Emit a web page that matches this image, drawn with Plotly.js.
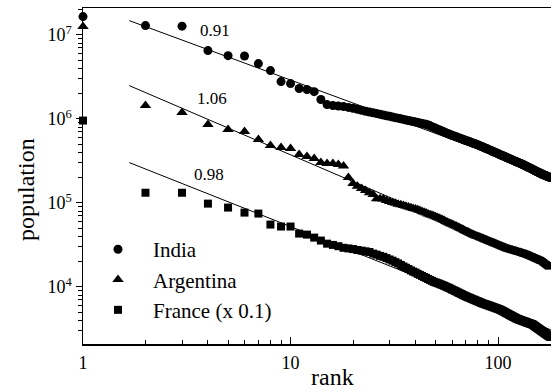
<!DOCTYPE html>
<html>
<head>
<meta charset="utf-8">
<script src="https://cdn.plot.ly/plotly-3.0.1.min.js"></script>
<style>html,body{margin:0;padding:0;background:#fff;}#chart{width:551px;height:392px;}</style>
</head>
<body>
<div id="chart"></div>
<script>
const rank = Array.from({length: 180}, (_, i) => i + 1);

const india = [
16500000, 12900000, 12700000, 6500000, 5660000, 5600000, 4550000, 3760000, 2780000, 2630000,
2300000, 2230000, 2110000, 1700000, 1480000, 1445000, 1420000, 1400000, 1370000, 1340000,
1300000, 1265000, 1233000, 1205000, 1180000, 1156000, 1133000, 1111000, 1091000, 1072000,
1054000, 1035000, 1019000, 1003000, 986000, 972000, 957000, 944000, 931000, 918000,
905000, 893000, 883000, 871000, 861000, 845000, 826000, 807000, 791000, 773000,
755000, 741000, 726000, 713000, 698000, 685000, 671000, 661000, 647000, 638000,
628000, 619000, 611000, 601000, 593000, 583000, 577000, 568000, 561000, 553000,
547000, 540000, 533000, 526000, 520000, 513000, 508000, 501000, 495000, 490000,
484000, 476000, 471000, 465000, 459000, 453000, 447000, 443000, 437000, 432000,
427000, 421000, 417000, 412000, 406000, 403000, 397000, 394000, 389000, 385000,
381000, 377000, 372000, 369000, 365000, 361000, 358000, 354000, 351000, 347000,
344000, 340000, 337000, 334000, 330000, 328000, 325000, 321000, 318000, 316000,
313000, 310000, 308000, 305000, 302000, 300000, 297000, 295000, 292000, 290000,
288000, 285000, 282000, 280000, 278000, 275000, 272000, 270000, 267000, 265000,
263000, 261000, 259000, 256000, 254000, 252000, 250000, 248000, 245000, 243000,
242000, 239000, 237000, 235000, 234000, 232000, 230000, 228000, 227000, 225000,
223000, 221000, 220000, 218000, 217000, 216000, 214000, 213000, 212000, 211000,
209000, 208000, 207000, 206000, 205000, 203000, 202000, 201000, 200000, 199000
];

const argentina = [
12600000, 1440000, 1190000, 855000, 746000, 706000, 567000, 481000, 455000, 443000,
376000, 356000, 337000, 302000, 294000, 294000, 286000, 275000, 200000, 170000,
158000, 148000, 140000, 132000, 126000, 112000, 112000, 111000, 107000, 104000,
101000, 98900, 96600, 95100, 92900, 91000, 89100, 87500, 85900, 84300,
82800, 80900, 79100, 77400, 75700, 73800, 72400, 71000, 69700, 68200,
67000, 65800, 64100, 62800, 61500, 60100, 58900, 57800, 56600, 55600,
54600, 53600, 52600, 51600, 50600, 49500, 48800, 47800, 47000, 46100,
45400, 44600, 43900, 43100, 42400, 41800, 41300, 40700, 40200, 39700,
39300, 38700, 38300, 37800, 37400, 37000, 36400, 36100, 35600, 35200,
34800, 34400, 34100, 33700, 33300, 33000, 32700, 32400, 32000, 31700,
31400, 31000, 30700, 30400, 30100, 29900, 29600, 29300, 29000, 28800,
28400, 28200, 28100, 27900, 27700, 27500, 27400, 27200, 27000, 26900,
26700, 26500, 26400, 26200, 26000, 25900, 25700, 25600, 25400, 25300,
25100, 24900, 24800, 24700, 24600, 24400, 24300, 24200, 24000, 23800,
23700, 23500, 23300, 23100, 23000, 22800, 22600, 22400, 22300, 22100,
22000, 21800, 21600, 21500, 21400, 21200, 21000, 20900, 20800, 20700,
20500, 20300, 20200, 20100, 20000, 19800, 19500, 19400, 19100, 19000,
18700, 18500, 18300, 18100, 18000, 17700, 17600, 17400, 17200, 17100
];

const franceScaled = [
955000, 132000, 132000, 98000, 87900, 76600, 74600, 55200, 52300, 52300,
43100, 41900, 38600, 35600, 32700, 31600, 30500, 29200, 28700, 28200,
27500, 27000, 26500, 26000, 24900, 24200, 23400, 22800, 22000, 21200,
20500, 19700, 19000, 18200, 17500, 16900, 16300, 15700, 15200, 14800,
14300, 13900, 13500, 13100, 12800, 12400, 12100, 11800, 11500, 11300,
11100, 10900, 10700, 10500, 10300, 10100, 9890, 9730, 9510, 9310,
9140, 8950, 8790, 8610, 8450, 8280, 8150, 7980, 7850, 7730,
7600, 7500, 7400, 7290, 7180, 7080, 7000, 6900, 6790, 6710,
6640, 6550, 6460, 6380, 6320, 6250, 6180, 6140, 6070, 6010,
5960, 5890, 5850, 5780, 5730, 5680, 5620, 5570, 5520, 5470,
5430, 5370, 5310, 5240, 5180, 5120, 5050, 4990, 4930, 4860,
4810, 4750, 4690, 4630, 4580, 4540, 4480, 4430, 4380, 4340,
4280, 4240, 4190, 4160, 4120, 4100, 4060, 4040, 4010, 3980,
3950, 3920, 3900, 3870, 3850, 3820, 3790, 3770, 3740, 3720,
3700, 3670, 3650, 3630, 3610, 3580, 3560, 3520, 3470, 3430,
3390, 3350, 3300, 3270, 3240, 3200, 3160, 3130, 3100, 3060,
3030, 2990, 2960, 2930, 2900, 2870, 2840, 2810, 2780, 2750,
2720, 2690, 2670, 2640, 2620, 2590, 2580, 2560, 2530, 2510
];

// fitted power-law lines (endpoints)
const fitRank = [1.67, 200];
const indiaFit = [14800000, 190000];
const argentinaFit = [2490000, 15600];
const franceFit = [302000, 2770];
const exponents = ['0.91', '1.06', '0.98'];

const seriesNames = ['India', 'Argentina', 'France (x 0.1)'];

const yTickVals = [1e4, 1e5, 1e6, 1e7];
const yTickText = ['10<sup>4</sup>', '10<sup>5</sup>', '10<sup>6</sup>', '10<sup>7</sup>'];
const xTickVals = [1, 10, 100];
const xTickText = ['1', '10', '100'];

const yMinor = [];
[1e3, 1e4, 1e5, 1e6, 1e7].forEach(d => { for (let k = 2; k <= 9; k++) yMinor.push(d * k); });
const xMinor = [];
[1, 10, 100].forEach(d => { for (let k = 2; k <= 9; k++) xMinor.push(d * k); });

const FONT = '"Liberation Serif", "Times New Roman", serif';

const markerBase = {color: '#000', line: {width: 0}};
const traces = [
  {x: rank, y: india, mode: 'markers', name: seriesNames[0], cliponaxis: false,
   marker: Object.assign({symbol: 'circle', size: 9}, markerBase)},
  {x: rank, y: argentina, mode: 'markers', name: seriesNames[1], cliponaxis: false,
   marker: Object.assign({symbol: 'triangle-up', size: 10}, markerBase)},
  {x: rank, y: franceScaled, mode: 'markers', name: seriesNames[2], cliponaxis: false,
   marker: Object.assign({symbol: 'square', size: 8}, markerBase)},
  {x: fitRank, y: indiaFit, mode: 'lines', showlegend: false, line: {color: '#000', width: 1}},
  {x: fitRank, y: argentinaFit, mode: 'lines', showlegend: false, line: {color: '#000', width: 1}},
  {x: fitRank, y: franceFit, mode: 'lines', showlegend: false, line: {color: '#000', width: 1}}
];

const layout = {
  width: 551, height: 392,
  margin: {l: 83, r: 0, t: 8, b: 48, pad: 0},
  paper_bgcolor: '#fff', plot_bgcolor: '#fff',
  font: {family: FONT, color: '#000', size: 18},
  showlegend: true,
  legend: {x: 0.0, y: 0.342, xanchor: 'left', yanchor: 'top', itemwidth: 60,
           font: {family: FONT, size: 21, color: '#000'}, bgcolor: 'rgba(0,0,0,0)',
           tracegroupgap: 0},
  xaxis: {type: 'log', range: [0, 2.255], showgrid: false, zeroline: false,
          showline: true, linecolor: '#000', linewidth: 1.5, mirror: true,
          ticks: 'inside', ticklen: 7, tickwidth: 1, tickcolor: '#000',
          tickmode: 'array', tickvals: xTickVals, ticktext: xTickText,
          ticklabelstandoff: 2,
          minor: {tickmode: 'array', tickvals: xMinor, ticks: 'inside', ticklen: 4, tickwidth: 1, tickcolor: '#000', showgrid: false},
          tickfont: {family: FONT, size: 18, color: '#000'}},
  yaxis: {type: 'log', range: [3.32, 7.32], showgrid: false, zeroline: false,
          showline: true, linecolor: '#000', linewidth: 1.5,
          ticks: 'outside', ticklen: 6, tickwidth: 1, tickcolor: '#000',
          tickmode: 'array', tickvals: yTickVals, ticktext: yTickText,
          minor: {tickmode: 'array', tickvals: yMinor, ticks: 'outside', ticklen: 4, tickwidth: 1, tickcolor: '#000', showgrid: false},
          tickfont: {family: FONT, size: 18, color: '#000'}},
  annotations: [
    {text: exponents[0], xref: 'x', yref: 'y', x: Math.log10(4.33), y: Math.log10(1.12e7), showarrow: false, font: {family: FONT, size: 17, color: '#000'}},
    {text: exponents[1], xref: 'x', yref: 'y', x: Math.log10(4.19), y: Math.log10(1.74e6), showarrow: false, font: {family: FONT, size: 17, color: '#000'}},
    {text: exponents[2], xref: 'x', yref: 'y', x: Math.log10(4.05), y: Math.log10(2.17e5), showarrow: false, font: {family: FONT, size: 17, color: '#000'}},
    {text: 'rank', xref: 'paper', yref: 'paper', x: (332 - 83) / 468, y: (344 - 377) / 336, xanchor: 'center', yanchor: 'middle', showarrow: false, font: {family: FONT, size: 24, color: '#000'}},
    {text: 'population', xref: 'paper', yref: 'paper', x: (26 - 83) / 468, y: (344 - 190) / 336, xanchor: 'center', yanchor: 'middle', textangle: -90, showarrow: false, font: {family: FONT, size: 24, color: '#000'}}
  ]
};

Plotly.newPlot('chart', traces, layout, {staticPlot: true, displayModeBar: false});
</script>
</body>
</html>
